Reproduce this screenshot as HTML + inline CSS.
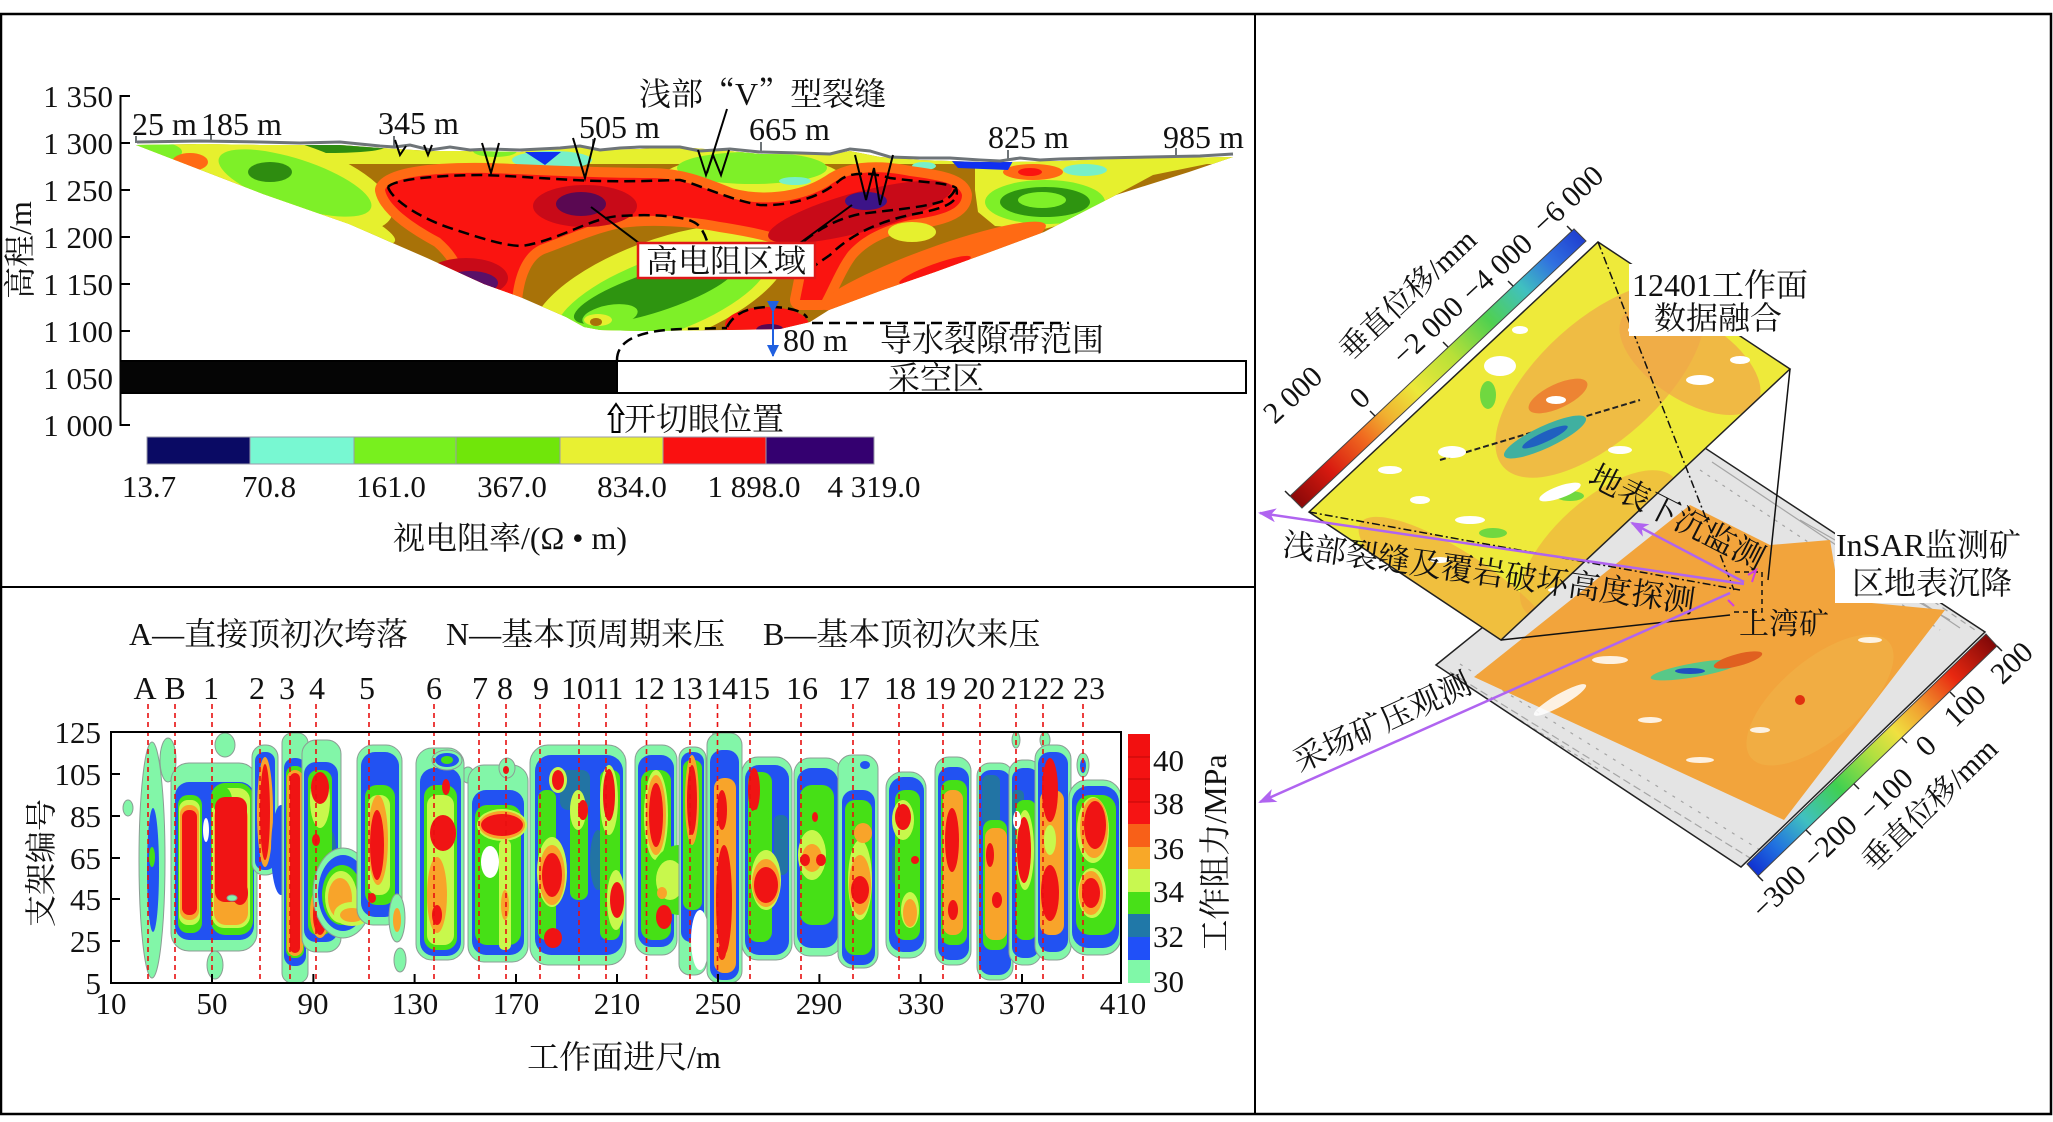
<!DOCTYPE html>
<html><head><meta charset="utf-8">
<style>
html,body{margin:0;padding:0;background:#fff;}
svg{display:block;}
text{font-family:"Liberation Serif","Noto Serif CJK SC",serif;fill:#111;}
.cj{font-family:"Noto Serif CJK SC",serif;}
.m{fill:#82f6a8;stroke:#8c9c94;stroke-width:1}
.b{fill:#2252f2}
.t{fill:#2274a4}
.g{fill:#46e016}
.y{fill:#c8f84c}
.o{fill:#f8a42a}
.q{fill:#f86418}
.r{fill:#f01414}
.w{fill:#fff}
</style></head><body>
<svg xmlns="http://www.w3.org/2000/svg" width="2053" height="1122" viewBox="0 0 2053 1122">
<defs>
 <clipPath id="pc"><path d="M136,145 L200,144 L260,145 L340,145 L380,148 L430,151 L470,151 L520,152 L570,146 L600,150 L640,149 L680,147 L730,151 L760,154 L830,155 L850,151 L880,157 L920,160 L980,162 L1010,162 L1060,161 L1120,159 L1233,157 L1189,172 L1116,195 L1044,232 L990,252 L935,272 L880,291 L829,310 L810,322 L780,329 L727,330 L640,331 L600,330 L584,327 L566,317 L520,297 L484,284 L427,258 L349,224 L263,194 Z"/></clipPath>
 <clipPath id="hc"><rect x="111" y="732" width="1010" height="251"/></clipPath>
 <clipPath id="upc"><polygon points="1309,512 1598,242 1790,369 1501,640"/></clipPath>
 <clipPath id="lpc"><polygon points="1436,665 1705,448 1985,632 1741,867"/></clipPath>
 <linearGradient id="gcu" gradientUnits="userSpaceOnUse" x1="1296" y1="502" x2="1580" y2="235">
  <stop offset="0" stop-color="#8a0808"/>
  <stop offset="0.12" stop-color="#d81a10"/>
  <stop offset="0.24" stop-color="#f06a20"/>
  <stop offset="0.32" stop-color="#f0b030"/>
  <stop offset="0.42" stop-color="#ece83a"/>
  <stop offset="0.55" stop-color="#b8e038"/>
  <stop offset="0.68" stop-color="#50d050"/>
  <stop offset="0.8" stop-color="#40c0c0"/>
  <stop offset="0.9" stop-color="#3070e0"/>
  <stop offset="1" stop-color="#2040d0"/>
 </linearGradient>
 <linearGradient id="gcl" gradientUnits="userSpaceOnUse" x1="1752" y1="870" x2="1992" y2="640">
  <stop offset="0" stop-color="#1030d0"/>
  <stop offset="0.1" stop-color="#2070e0"/>
  <stop offset="0.22" stop-color="#40c0c0"/>
  <stop offset="0.36" stop-color="#40d050"/>
  <stop offset="0.5" stop-color="#b0e040"/>
  <stop offset="0.6" stop-color="#f0e040"/>
  <stop offset="0.7" stop-color="#f0a030"/>
  <stop offset="0.84" stop-color="#e82810"/>
  <stop offset="1" stop-color="#800808"/>
 </linearGradient>
 <marker id="pa" markerUnits="userSpaceOnUse" markerWidth="18" markerHeight="14" refX="16" refY="7" orient="auto">
  <path d="M0,0 L18,7 L0,14 L5,7 Z" fill="#b064f0"/>
 </marker>
 <marker id="ba" markerUnits="userSpaceOnUse" markerWidth="12" markerHeight="12" refX="11" refY="6" orient="auto">
  <path d="M0,0 L12,6 L0,12 Z" fill="#2060e0"/>
 </marker>
</defs>

<rect x="0" y="0" width="2053" height="1122" fill="#fff"/>

<!-- ===================== TOP-LEFT PROFILE ===================== -->
<g clip-path="url(#pc)">
 <rect x="130" y="135" width="1110" height="200" fill="#a87208"/>
 <rect x="130" y="138" width="1110" height="26" fill="#e6f02e"/>
 <ellipse cx="330" cy="147" rx="55" ry="6" fill="#2e8c10"/>
 <ellipse cx="150" cy="152" rx="32" ry="11" fill="#7ef028"/>
 <ellipse cx="292" cy="183" rx="105" ry="40" transform="rotate(18 292 183)" fill="#e6f02e"/>
 <ellipse cx="330" cy="215" rx="70" ry="14" transform="rotate(22 330 215)" fill="#e6f02e"/>
 <ellipse cx="295" cy="183" rx="80" ry="24" transform="rotate(18 295 183)" fill="#7ef028"/>
 <ellipse cx="270" cy="172" rx="22" ry="10" fill="#2e8c10"/>
 <ellipse cx="190" cy="162" rx="18" ry="9" fill="#ff6a14"/>
 <ellipse cx="752" cy="178" rx="90" ry="22" fill="#e6f02e"/>
 <ellipse cx="752" cy="168" rx="75" ry="16" fill="#7ef028"/>
 <ellipse cx="795" cy="181" rx="16" ry="4" fill="#78f0c8"/>
 <ellipse cx="924" cy="166" rx="12" ry="4" fill="#78f0c8"/>
 <ellipse cx="552" cy="160" rx="40" ry="9" fill="#78f0c8"/>
 <polygon points="525,152 561,152 545,165" fill="#1030f0"/>
 <ellipse cx="495" cy="151" rx="22" ry="6" fill="#7ef028"/>
 <!-- lower middle yellow/green -->
 <ellipse cx="660" cy="292" rx="135" ry="52" transform="rotate(-20 660 292)" fill="#e6f02e"/>
 <ellipse cx="662" cy="296" rx="112" ry="38" transform="rotate(-20 662 296)" fill="#7ef028"/>
 <ellipse cx="655" cy="292" rx="85" ry="20" transform="rotate(-18 655 292)" fill="#2e9410"/>
 <ellipse cx="610" cy="316" rx="28" ry="11" transform="rotate(-10 610 316)" fill="#7ef028"/>
 <ellipse cx="598" cy="320" rx="14" ry="6" fill="#e6f02e"/>
 <ellipse cx="596" cy="322" rx="6" ry="4" fill="#a87208"/>
 <!-- red region -->
 <path d="M385,190 C390,176 440,172 490,173 C540,175 600,178 650,178 C680,178 700,186 730,198 C760,206 800,204 830,185 C850,170 880,170 910,176 C940,180 960,184 962,195 C962,210 940,216 910,220 C880,226 860,238 848,252 C838,265 830,285 822,300 L800,300 C805,275 810,255 805,245 C790,236 760,228 720,222 C690,216 650,214 620,218 C590,224 565,236 540,245 C525,252 515,270 512,300 L470,300 C468,275 460,255 440,238 C410,222 388,205 385,190 Z" fill="#ff6a14" stroke="#ff6a14" stroke-width="20" stroke-linejoin="round"/>
 <path d="M385,190 C390,176 440,172 490,173 C540,175 600,178 650,178 C680,178 700,186 730,198 C760,206 800,204 830,185 C850,170 880,170 910,176 C940,180 960,184 962,195 C962,210 940,216 910,220 C880,226 860,238 848,252 C838,265 830,285 822,300 L800,300 C805,275 810,255 805,245 C790,236 760,228 720,222 C690,216 650,214 620,218 C590,224 565,236 540,245 C525,252 515,270 512,300 L470,300 C468,275 460,255 440,238 C410,222 388,205 385,190 Z" fill="#fa1410"/>
 <ellipse cx="585" cy="206" rx="52" ry="21" fill="#c80a18"/>
 <ellipse cx="581" cy="204" rx="25" ry="12" fill="#5a0852"/>
 <ellipse cx="860" cy="212" rx="95" ry="20" transform="rotate(-15 860 212)" fill="#c80a18"/>
 <ellipse cx="866" cy="201" rx="21" ry="9" fill="#3c1488"/>
 <ellipse cx="466" cy="278" rx="42" ry="20" fill="#c80a18"/>
 <ellipse cx="470" cy="283" rx="28" ry="12" fill="#5a1068"/>
 <ellipse cx="912" cy="232" rx="24" ry="10" fill="#e6f02e"/>
 <!-- right side -->
 <polygon points="975,162 1233,156 1207,164 1153,175 1116,195 1080,220 1044,229 995,226 978,212 975,190" fill="#e6f02e"/>
 <ellipse cx="1045" cy="202" rx="60" ry="22" fill="#7ef028"/>
 <ellipse cx="1045" cy="202" rx="45" ry="15" fill="#2e9410"/>
 <ellipse cx="1042" cy="200" rx="24" ry="8" fill="#7ef028"/>
 <ellipse cx="1033" cy="172" rx="30" ry="8" fill="#ff6a14"/>
 <ellipse cx="1030" cy="172" rx="12" ry="4" fill="#fa1410"/>
 <polygon points="951,160 1013,161 1008,170 958,168" fill="#1030f0"/>
 <ellipse cx="1085" cy="170" rx="22" ry="6" fill="#78f0c8"/>
 <ellipse cx="933" cy="266" rx="120" ry="18" transform="rotate(-20 933 266)" fill="#ff6a14"/>
 <ellipse cx="935" cy="270" rx="38" ry="6" transform="rotate(-20 935 270)" fill="#fa1410"/>
 <!-- bottom red blob -->
 <ellipse cx="767" cy="325" rx="42" ry="18" fill="#fa1410"/>
 <ellipse cx="770" cy="330" rx="14" ry="6" fill="#5a0852"/>
</g>
<!-- surface line -->
<polyline fill="none" stroke="#6e7478" stroke-width="3" points="137,142 200,141 260,142 300,143 340,142 360,144 380,146 395,147 410,145 430,150 450,147 470,150 490,149 520,150 560,148 580,146 600,150 620,148 640,147 680,147 700,151 730,149 760,152 800,153 830,154 850,149 870,151 890,157 920,158 950,158 980,160 1000,161 1020,158 1040,160 1060,159 1100,158 1150,157 1200,156 1233,154"/>
<g stroke="#6e7478" stroke-width="2">
 <line x1="136" y1="136" x2="136" y2="143"/><line x1="211" y1="134" x2="211" y2="142"/>
 <line x1="394" y1="136" x2="394" y2="146"/><line x1="593" y1="139" x2="593" y2="148"/>
 <line x1="761" y1="142" x2="761" y2="152"/><line x1="1008" y1="150" x2="1008" y2="160"/>
 <line x1="1176" y1="148" x2="1176" y2="157"/>
</g>
<!-- V cracks -->
<g fill="none" stroke="#000" stroke-width="2">
 <polyline points="395,140 400,155 406,146"/>
 <polyline points="424,145 428,155 432,145"/>
 <polyline points="482,143 491,173 499,143"/>
 <polyline points="573,138 585,178 595,138"/>
 <polyline points="698,150 706,175 713,155 721,175 729,150"/>
 <polyline points="855,155 866,200 874,168 880,205 893,155"/>
 <line x1="727" y1="109" x2="707" y2="173"/>
 <line x1="591" y1="207" x2="639" y2="243"/>
 <line x1="852" y1="205" x2="800" y2="243"/>
</g>
<!-- dashed boundaries -->
<g fill="none" stroke="#000" stroke-width="2.5" stroke-dasharray="11 6">
 <path d="M388,187 C395,178 450,175 480,175 C520,176 560,180 600,181 C640,182 665,180 680,180 C700,185 730,200 760,205 C790,206 820,198 840,180 C850,172 870,172 890,178 C920,182 950,183 956,188 C960,200 950,207 920,213 C880,220 850,235 830,255 C820,262 815,265 812,268"/>
 <path d="M388,187 C392,200 420,218 450,228 C480,238 505,246 522,246 C560,240 590,218 619,216 C650,214 690,215 699,226 C704,232 706,238 707,241"/>
 <path d="M804,241 C820,228 840,218 860,214 C890,210 920,208 940,202 C952,198 956,190 956,184"/>
 <path d="M617,360 C617,340 640,330 683,329 L727,328"/>
 <path d="M727,327 C735,312 750,307 770,307 C790,307 805,312 807,318"/>
 <line x1="812" y1="323" x2="1069" y2="323"/>
</g>
<!-- high resistivity box -->
<rect x="638" y="243" width="177" height="35" fill="#fff" stroke="#e01818" stroke-width="2.5"/>
<text x="726" y="272" font-size="32" text-anchor="middle">高电阻区域</text>
<text x="639" y="105" font-size="32">浅部<tspan class="cj">“</tspan>V<tspan class="cj">”</tspan>型裂缝</text>
<!-- axis -->
<g stroke="#000" stroke-width="2">
 <line x1="120.5" y1="95" x2="120.5" y2="426"/>
 <line x1="120" y1="96" x2="130" y2="96"/><line x1="120" y1="143" x2="130" y2="143"/>
 <line x1="120" y1="190" x2="130" y2="190"/><line x1="120" y1="237" x2="130" y2="237"/>
 <line x1="120" y1="284" x2="130" y2="284"/><line x1="120" y1="331" x2="130" y2="331"/>
 <line x1="120" y1="378" x2="130" y2="378"/><line x1="120" y1="425" x2="130" y2="425"/>
</g>
<g font-size="31" text-anchor="end">
 <text x="113" y="107">1 350</text><text x="113" y="154">1 300</text>
 <text x="113" y="201">1 250</text><text x="113" y="248">1 200</text>
 <text x="113" y="295">1 150</text><text x="113" y="342">1 100</text>
 <text x="113" y="389">1 050</text><text x="113" y="436">1 000</text>
</g>
<text transform="translate(31,250) rotate(-90)" font-size="32" text-anchor="middle">高程/m</text>
<g font-size="32">
 <text x="132" y="135">25 m</text><text x="201" y="135">185 m</text>
 <text x="378" y="134">345 m</text><text x="579" y="138">505 m</text>
 <text x="749" y="140">665 m</text><text x="988" y="148">825 m</text>
 <text x="1163" y="148">985 m</text>
</g>
<!-- goaf -->
<rect x="120" y="361" width="497" height="32" fill="#050505"/>
<rect x="617" y="361" width="629" height="32" fill="#fff" stroke="#000" stroke-width="2"/>
<line x1="120" y1="361" x2="1246" y2="361" stroke="#000" stroke-width="2"/>
<line x1="120" y1="393" x2="1246" y2="393" stroke="#000" stroke-width="2"/>
<text x="936" y="389" font-size="32" text-anchor="middle">采空区</text>
<line x1="773" y1="312" x2="773" y2="356" stroke="#2060e0" stroke-width="2" marker-start="url(#ba)" marker-end="url(#ba)"/>
<text x="783" y="351" font-size="32">80 m</text>
<text x="880" y="351" font-size="32">导水裂隙带范围</text>
<path d="M616,404 L623,414 L619.5,414 L619.5,432 L612.5,432 L612.5,414 L609,414 Z" fill="#fff" stroke="#000" stroke-width="2"/>
<text x="624" y="430" font-size="32">开切眼位置</text>
<!-- colorbar -->
<g stroke="#9a9aaa" stroke-width="1">
 <rect x="147" y="437" width="103" height="27" fill="#0a0a64"/>
 <rect x="250" y="437" width="104" height="27" fill="#78f8d2"/>
 <rect x="354" y="437" width="102" height="27" fill="#78f01e"/>
 <rect x="456" y="437" width="104" height="27" fill="#70e60a"/>
 <rect x="560" y="437" width="103" height="27" fill="#e8f032"/>
 <rect x="663" y="437" width="103" height="27" fill="#fa1010"/>
 <rect x="766" y="437" width="108" height="27" fill="#340070"/>
</g>
<g font-size="31" text-anchor="middle">
 <text x="149" y="497">13.7</text><text x="269" y="497">70.8</text>
 <text x="391" y="497">161.0</text><text x="512" y="497">367.0</text>
 <text x="632" y="497">834.0</text><text x="754" y="497">1 898.0</text>
 <text x="874" y="497">4 319.0</text>
</g>
<text x="510" y="549" font-size="32" text-anchor="middle">视电阻率/(Ω • m)</text>

<!-- ===================== BOTTOM-LEFT HEATMAP ===================== -->
<g font-size="32">
 <text x="129" y="645">A—直接顶初次垮落</text>
 <text x="446" y="645">N—基本顶周期来压</text>
 <text x="763" y="645">B—基本顶初次来压</text>
</g>
<g font-size="32" text-anchor="middle">
 <text x="145" y="699">A</text><text x="175" y="699">B</text><text x="211" y="699">1</text>
 <text x="257" y="699">2</text><text x="287" y="699">3</text><text x="317" y="699">4</text>
 <text x="367" y="699">5</text><text x="434" y="699">6</text><text x="480" y="699">7</text>
 <text x="505" y="699">8</text><text x="541" y="699">9</text><text x="577" y="699">10</text>
 <text x="608" y="699">11</text><text x="649" y="699">12</text><text x="687" y="699">13</text>
 <text x="722" y="699">14</text><text x="754" y="699">15</text><text x="802" y="699">16</text>
 <text x="854" y="699">17</text><text x="900" y="699">18</text><text x="940" y="699">19</text>
 <text x="979" y="699">20</text><text x="1017" y="699">21</text><text x="1049" y="699">22</text>
 <text x="1089" y="699">23</text>
</g>
<g clip-path="url(#hc)">
 <ellipse class="m" cx="128" cy="808" rx="5" ry="8"/>
 <ellipse class="m" cx="168" cy="760" rx="8" ry="22"/>
 <ellipse class="m" cx="225" cy="745" rx="10" ry="12"/>
 <ellipse class="m" cx="215" cy="965" rx="8" ry="14"/>
 <ellipse class="m" cx="400" cy="960" rx="6" ry="12"/>
 <ellipse class="m" cx="468" cy="775" rx="6" ry="8"/>
 <ellipse class="m" cx="1045" cy="740" rx="5" ry="8"/>
 <ellipse class="m" cx="1016" cy="740" rx="4" ry="8"/>
 <ellipse class="m" cx="720" cy="740" rx="8" ry="14"/>
 <!-- A -->
 <ellipse class="m" cx="152" cy="860" rx="13" ry="118"/>
 <ellipse class="b" cx="153" cy="870" rx="6" ry="62"/>
 <ellipse class="g" cx="152" cy="857" rx="3" ry="10"/>
 <!-- B & 1 -->
 <rect class="m" x="171" y="763" width="86" height="188" rx="18"/>
 <rect class="b" x="175" y="782" width="79" height="158" rx="14"/>
 <rect class="g" x="178" y="795" width="24" height="138" rx="10"/>
 <rect class="y" x="179" y="800" width="21" height="125" rx="9"/>
 <rect class="o" x="180" y="805" width="19" height="115" rx="9"/>
 <rect class="r" x="182" y="810" width="15" height="105" rx="7"/>
 <ellipse class="w" cx="206" cy="830" rx="3" ry="12"/>
 <rect class="g" x="211" y="783" width="42" height="152" rx="14"/>
 <rect class="y" x="212" y="788" width="38" height="140" rx="12"/>
 <ellipse class="g" cx="222" cy="800" rx="10" ry="14"/>
 <rect class="o" x="214" y="805" width="34" height="120" rx="12"/>
 <rect class="r" x="215" y="797" width="32" height="105" rx="10"/>
 <ellipse class="r" cx="240" cy="893" rx="8" ry="12"/>
 <ellipse class="m" cx="232" cy="898" rx="5" ry="3"/>
 <!-- 2 -->
 <rect class="m" x="252" y="745" width="26" height="130" rx="12"/>
 <rect class="b" x="255" y="752" width="20" height="118" rx="9"/>
 <ellipse class="o" cx="265" cy="812" rx="8" ry="55"/>
 <ellipse class="r" cx="265" cy="812" rx="5" ry="48"/>
 <ellipse class="b" cx="281" cy="850" rx="10" ry="45"/>
 <!-- 3 -->
 <rect class="m" x="282" y="733" width="26" height="250" rx="10"/>
 <rect class="b" x="284" y="758" width="22" height="208" rx="10"/>
 <rect class="g" x="286" y="766" width="18" height="192" rx="8"/>
 <rect class="o" x="287" y="770" width="16" height="186" rx="8"/>
 <rect class="r" x="290" y="773" width="10" height="180" rx="5"/>
 <!-- 4 -->
 <rect class="m" x="302" y="740" width="39" height="212" rx="14"/>
 <rect class="b" x="304" y="762" width="34" height="180" rx="12"/>
 <ellipse class="t" cx="330" cy="850" rx="6" ry="20"/>
 <rect class="g" x="308" y="770" width="24" height="165" rx="10"/>
 <ellipse class="y" cx="320" cy="800" rx="10" ry="28"/>
 <ellipse class="r" cx="320" cy="788" rx="9" ry="16"/>
 <ellipse class="o" cx="320" cy="912" rx="10" ry="26"/>
 <ellipse class="r" cx="320" cy="915" rx="7" ry="20"/>
 <ellipse class="r" cx="316" cy="840" rx="4" ry="6"/>
 <!-- 4-5 -->
 <ellipse class="m" cx="343" cy="893" rx="30" ry="45"/>
 <ellipse class="b" cx="343" cy="893" rx="25" ry="38"/>
 <ellipse class="g" cx="342" cy="895" rx="20" ry="30"/>
 <ellipse class="y" cx="341" cy="897" rx="16" ry="26"/>
 <ellipse class="o" cx="340" cy="898" rx="12" ry="20"/>
 <ellipse class="y" cx="352" cy="914" rx="18" ry="12"/>
 <ellipse class="o" cx="352" cy="915" rx="12" ry="7"/>
 <!-- 5 -->
 <rect class="m" x="357" y="745" width="45" height="180" rx="16"/>
 <rect class="b" x="361" y="752" width="38" height="165" rx="14"/>
 <rect class="g" x="365" y="785" width="30" height="120" rx="12"/>
 <rect class="y" x="368" y="795" width="22" height="100" rx="10"/>
 <ellipse class="o" cx="378" cy="840" rx="10" ry="45"/>
 <ellipse class="r" cx="377" cy="845" rx="7" ry="35"/>
 <ellipse class="r" cx="372" cy="898" rx="4" ry="5"/>
 <ellipse class="m" cx="397" cy="918" rx="8" ry="24"/>
 <ellipse class="o" cx="397" cy="920" rx="4" ry="12"/>
 <!-- 6 -->
 <rect class="m" x="416" y="748" width="48" height="212" rx="16"/>
 <rect class="b" x="420" y="768" width="41" height="188" rx="14"/>
 <rect class="g" x="424" y="785" width="33" height="165" rx="12"/>
 <rect class="y" x="427" y="795" width="27" height="150" rx="10"/>
 <ellipse class="m" cx="447" cy="760" rx="15" ry="10"/>
 <ellipse class="b" cx="447" cy="760" rx="12" ry="7"/>
 <ellipse class="g" cx="447" cy="760" rx="6" ry="4"/>
 <ellipse class="r" cx="443" cy="833" rx="13" ry="18"/>
 <ellipse class="o" cx="437" cy="895" rx="10" ry="38"/>
 <ellipse class="r" cx="437" cy="915" rx="5" ry="10"/>
 <ellipse class="r" cx="446" cy="787" rx="4" ry="8"/>
 <!-- 7/8 -->
 <rect class="m" x="468" y="765" width="60" height="197" rx="16"/>
 <rect class="b" x="472" y="790" width="52" height="165" rx="14"/>
 <rect class="g" x="475" y="805" width="46" height="140" rx="12"/>
 <ellipse class="w" cx="490" cy="862" rx="9" ry="16"/>
 <ellipse class="y" cx="502" cy="825" rx="25" ry="16"/>
 <ellipse class="o" cx="502" cy="825" rx="23" ry="14"/>
 <ellipse class="r" cx="502" cy="825" rx="21" ry="11"/>
 <rect class="y" x="499" y="840" width="12" height="110" rx="5"/>
 <ellipse class="o" cx="505" cy="905" rx="4" ry="15"/>
 <ellipse class="m" cx="507" cy="768" rx="8" ry="10"/>
 <ellipse class="r" cx="506" cy="770" rx="3" ry="4"/>
 <!-- 9-11 -->
 <rect class="m" x="530" y="745" width="96" height="220" rx="18"/>
 <rect class="b" x="535" y="755" width="88" height="200" rx="16"/>
 <rect class="t" x="560" y="770" width="30" height="40" rx="8"/>
 <ellipse class="t" cx="598" cy="860" rx="8" ry="30"/>
 <rect class="g" x="538" y="790" width="18" height="150" rx="8"/>
 <rect class="g" x="570" y="800" width="18" height="100" rx="8"/>
 <rect class="g" x="600" y="770" width="20" height="170" rx="8"/>
 <ellipse class="y" cx="552" cy="872" rx="15" ry="35"/>
 <ellipse class="y" cx="609" cy="800" rx="9" ry="35"/>
 <ellipse class="y" cx="616" cy="900" rx="9" ry="30"/>
 <ellipse class="y" cx="578" cy="810" rx="8" ry="20"/>
 <ellipse class="o" cx="552" cy="875" rx="13" ry="30"/>
 <ellipse class="r" cx="552" cy="875" rx="10" ry="22"/>
 <ellipse class="y" cx="558" cy="780" rx="9" ry="13"/>
 <ellipse class="r" cx="558" cy="780" rx="6" ry="10"/>
 <ellipse class="r" cx="609" cy="795" rx="6" ry="26"/>
 <ellipse class="r" cx="583" cy="810" rx="5" ry="10"/>
 <ellipse class="r" cx="617" cy="900" rx="7" ry="18"/>
 <ellipse class="r" cx="553" cy="938" rx="9" ry="10"/>
 <!-- 12 -->
 <rect class="m" x="635" y="745" width="42" height="210" rx="15"/>
 <rect class="b" x="638" y="755" width="36" height="192" rx="13"/>
 <rect class="g" x="641" y="770" width="30" height="170" rx="11"/>
 <ellipse class="y" cx="656" cy="815" rx="12" ry="45"/>
 <ellipse class="o" cx="656" cy="815" rx="10" ry="40"/>
 <ellipse class="r" cx="656" cy="815" rx="7" ry="32"/>
 <ellipse class="g" cx="680" cy="880" rx="30" ry="35"/>
 <ellipse class="y" cx="670" cy="880" rx="14" ry="20"/>
 <ellipse class="o" cx="662" cy="893" rx="5" ry="6"/>
 <ellipse class="r" cx="664" cy="917" rx="8" ry="12"/>
 <!-- 13 -->
 <rect class="m" x="679" y="747" width="27" height="228" rx="11"/>
 <rect class="b" x="681" y="752" width="23" height="190" rx="10"/>
 <rect class="g" x="683" y="760" width="19" height="150" rx="8"/>
 <ellipse class="o" cx="692" cy="800" rx="7" ry="45"/>
 <ellipse class="r" cx="692" cy="800" rx="5" ry="35"/>
 <ellipse class="w" cx="700" cy="940" rx="9" ry="30"/>
 <!-- 14 -->
 <rect class="m" x="707" y="733" width="35" height="250" rx="12"/>
 <rect class="b" x="710" y="750" width="29" height="230" rx="12"/>
 <rect class="o" x="714" y="778" width="22" height="195" rx="10"/>
 <ellipse class="r" cx="724" cy="900" rx="8" ry="55"/>
 <ellipse class="r" cx="722" cy="810" rx="5" ry="20"/>
 <ellipse class="r" cx="722" cy="952" rx="4" ry="8"/>
 <!-- 15 -->
 <rect class="m" x="742" y="757" width="50" height="203" rx="16"/>
 <rect class="b" x="745" y="765" width="44" height="190" rx="14"/>
 <rect class="t" x="774" y="815" width="14" height="60" rx="6"/>
 <rect class="g" x="748" y="772" width="24" height="170" rx="10"/>
 <ellipse class="y" cx="766" cy="880" rx="15" ry="30"/>
 <ellipse class="o" cx="766" cy="883" rx="14" ry="24"/>
 <ellipse class="r" cx="766" cy="885" rx="12" ry="18"/>
 <ellipse class="r" cx="754" cy="790" rx="6" ry="22"/>
 <ellipse class="g" cx="760" cy="815" rx="10" ry="6"/>
 <!-- 16 -->
 <rect class="m" x="794" y="758" width="48" height="198" rx="16"/>
 <rect class="b" x="797" y="768" width="41" height="180" rx="14"/>
 <rect class="g" x="800" y="785" width="34" height="140" rx="12"/>
 <ellipse class="y" cx="812" cy="855" rx="14" ry="25"/>
 <ellipse class="o" cx="812" cy="858" rx="10" ry="14"/>
 <ellipse class="r" cx="805" cy="860" rx="5" ry="6"/>
 <ellipse class="r" cx="821" cy="860" rx="5" ry="6"/>
 <ellipse class="r" cx="815" cy="817" rx="3" ry="5"/>
 <!-- 17 -->
 <rect class="m" x="838" y="755" width="40" height="213" rx="14"/>
 <rect class="b" x="842" y="790" width="33" height="175" rx="12"/>
 <rect class="g" x="845" y="800" width="27" height="155" rx="10"/>
 <ellipse class="y" cx="860" cy="880" rx="12" ry="40"/>
 <ellipse class="o" cx="860" cy="885" rx="11" ry="30"/>
 <ellipse class="r" cx="860" cy="890" rx="9" ry="14"/>
 <ellipse class="o" cx="863" cy="833" rx="9" ry="10"/>
 <ellipse class="b" cx="865" cy="765" rx="5" ry="4"/>
 <!-- 18 -->
 <rect class="m" x="886" y="772" width="40" height="186" rx="16"/>
 <rect class="b" x="889" y="777" width="35" height="175" rx="14"/>
 <rect class="t" x="892" y="845" width="12" height="40" rx="5"/>
 <rect class="g" x="895" y="790" width="25" height="150" rx="10"/>
 <ellipse class="y" cx="903" cy="820" rx="11" ry="20"/>
 <ellipse class="y" cx="910" cy="910" rx="9" ry="18"/>
 <ellipse class="o" cx="910" cy="913" rx="7" ry="14"/>
 <ellipse class="r" cx="903" cy="817" rx="8" ry="13"/>
 <ellipse class="r" cx="915" cy="860" rx="4" ry="4"/>
 <!-- 19 -->
 <rect class="m" x="935" y="757" width="36" height="208" rx="14"/>
 <rect class="b" x="938" y="767" width="31" height="193" rx="12"/>
 <rect class="g" x="941" y="780" width="26" height="165" rx="10"/>
 <rect class="o" x="943" y="790" width="20" height="145" rx="9"/>
 <ellipse class="r" cx="952" cy="840" rx="7" ry="32"/>
 <ellipse class="r" cx="953" cy="910" rx="5" ry="10"/>
 <!-- 20 -->
 <rect class="m" x="977" y="763" width="36" height="217" rx="13"/>
 <rect class="b" x="979" y="770" width="32" height="205" rx="12"/>
 <rect class="t" x="982" y="775" width="18" height="50" rx="7"/>
 <rect class="g" x="983" y="820" width="24" height="130" rx="9"/>
 <rect class="o" x="985" y="828" width="22" height="112" rx="9"/>
 <ellipse class="r" cx="990" cy="855" rx="4" ry="12"/>
 <ellipse class="r" cx="997" cy="900" rx="5" ry="8"/>
 <!-- 21 -->
 <rect class="m" x="1009" y="760" width="32" height="205" rx="13"/>
 <rect class="b" x="1012" y="768" width="27" height="190" rx="11"/>
 <rect class="t" x="1012" y="790" width="12" height="60" rx="5"/>
 <rect class="g" x="1016" y="800" width="20" height="140" rx="8"/>
 <ellipse class="y" cx="1025" cy="850" rx="9" ry="40"/>
 <ellipse class="r" cx="1024" cy="850" rx="7" ry="33"/>
 <ellipse class="w" cx="1017" cy="820" rx="4" ry="9"/>
 <!-- 22 -->
 <rect class="m" x="1035" y="745" width="36" height="215" rx="14"/>
 <rect class="b" x="1038" y="752" width="30" height="200" rx="12"/>
 <rect class="o" x="1040" y="790" width="24" height="145" rx="10"/>
 <ellipse class="r" cx="1050" cy="790" rx="8" ry="32"/>
 <ellipse class="r" cx="1050" cy="893" rx="9" ry="28"/>
 <ellipse class="y" cx="1050" cy="840" rx="6" ry="15"/>
 <!-- 23 -->
 <ellipse class="m" cx="1083" cy="765" rx="6" ry="12"/>
 <ellipse class="b" cx="1083" cy="766" rx="3" ry="7"/>
 <rect class="m" x="1069" y="780" width="52" height="175" rx="18"/>
 <rect class="b" x="1072" y="786" width="47" height="162" rx="16"/>
 <rect class="g" x="1076" y="795" width="40" height="140" rx="14"/>
 <ellipse class="y" cx="1093" cy="830" rx="16" ry="33"/>
 <ellipse class="y" cx="1092" cy="893" rx="14" ry="25"/>
 <ellipse class="o" cx="1094" cy="828" rx="14" ry="30"/>
 <ellipse class="o" cx="1091" cy="893" rx="12" ry="22"/>
 <ellipse class="r" cx="1095" cy="825" rx="11" ry="24"/>
 <ellipse class="r" cx="1091" cy="893" rx="9" ry="15"/>
</g>
<!-- red dashed lines -->
<g stroke="#e81010" stroke-width="1.6" stroke-dasharray="5 4">
 <line x1="148" y1="704" x2="148" y2="983"/><line x1="175" y1="704" x2="175" y2="983"/>
 <line x1="212" y1="704" x2="212" y2="983"/><line x1="260" y1="704" x2="260" y2="983"/>
 <line x1="290" y1="704" x2="290" y2="983"/><line x1="316" y1="704" x2="316" y2="983"/>
 <line x1="369" y1="704" x2="369" y2="983"/><line x1="434" y1="704" x2="434" y2="983"/>
 <line x1="479" y1="704" x2="479" y2="983"/><line x1="506" y1="704" x2="506" y2="983"/>
 <line x1="540" y1="704" x2="540" y2="983"/><line x1="579" y1="704" x2="579" y2="983"/>
 <line x1="606" y1="704" x2="606" y2="983"/><line x1="646.5" y1="704" x2="646.5" y2="983"/>
 <line x1="690" y1="704" x2="690" y2="983"/><line x1="717.5" y1="704" x2="717.5" y2="983"/>
 <line x1="750" y1="704" x2="750" y2="983"/><line x1="801" y1="704" x2="801" y2="983"/>
 <line x1="853" y1="704" x2="853" y2="983"/><line x1="899" y1="704" x2="899" y2="983"/>
 <line x1="943" y1="704" x2="943" y2="983"/><line x1="980" y1="704" x2="980" y2="983"/>
 <line x1="1016" y1="704" x2="1016" y2="983"/><line x1="1043" y1="704" x2="1043" y2="983"/>
 <line x1="1083" y1="704" x2="1083" y2="983"/>
</g>
<rect x="111" y="732" width="1010" height="251" fill="none" stroke="#000" stroke-width="2"/>
<g stroke="#000" stroke-width="2">
 <line x1="111" y1="774" x2="120" y2="774"/><line x1="111" y1="816" x2="120" y2="816"/>
 <line x1="111" y1="858" x2="120" y2="858"/><line x1="111" y1="899" x2="120" y2="899"/>
 <line x1="111" y1="941" x2="120" y2="941"/>
 <line x1="212" y1="983" x2="212" y2="974"/><line x1="313.4" y1="983" x2="313.4" y2="974"/>
 <line x1="414.6" y1="983" x2="414.6" y2="974"/><line x1="516" y1="983" x2="516" y2="974"/>
 <line x1="617" y1="983" x2="617" y2="974"/><line x1="718" y1="983" x2="718" y2="974"/>
 <line x1="819.4" y1="983" x2="819.4" y2="974"/><line x1="920.6" y1="983" x2="920.6" y2="974"/>
 <line x1="1022" y1="983" x2="1022" y2="974"/>
</g>
<g font-size="31" text-anchor="end">
 <text x="101" y="743">125</text><text x="101" y="785">105</text>
 <text x="101" y="827">85</text><text x="101" y="869">65</text>
 <text x="101" y="910">45</text><text x="101" y="952">25</text>
 <text x="101" y="994">5</text>
</g>
<g font-size="31" text-anchor="middle">
 <text x="111" y="1014">10</text><text x="212" y="1014">50</text>
 <text x="313" y="1014">90</text><text x="415" y="1014">130</text>
 <text x="516" y="1014">170</text><text x="617" y="1014">210</text>
 <text x="718" y="1014">250</text><text x="819" y="1014">290</text>
 <text x="921" y="1014">330</text><text x="1022" y="1014">370</text>
 <text x="1123" y="1014">410</text>
</g>
<text x="624" y="1068" font-size="32" text-anchor="middle">工作面进尺/m</text>
<text transform="translate(52,863) rotate(-90)" font-size="32" text-anchor="middle">支架编号</text>
<!-- heatmap colorbar -->
<g>
 <rect x="1128" y="734" width="22" height="23" fill="#f21010"/>
 <rect x="1128" y="757" width="22" height="22" fill="#f41212"/>
 <rect x="1128" y="779" width="22" height="23" fill="#f21010"/>
 <rect x="1128" y="802" width="22" height="22" fill="#f61414"/>
 <rect x="1128" y="824" width="22" height="23" fill="#f86018"/>
 <rect x="1128" y="847" width="22" height="22" fill="#f8a828"/>
 <rect x="1128" y="869" width="22" height="23" fill="#c8f850"/>
 <rect x="1128" y="892" width="22" height="22" fill="#48e018"/>
 <rect x="1128" y="914" width="22" height="23" fill="#2078a8"/>
 <rect x="1128" y="937" width="22" height="23" fill="#2050f8"/>
 <rect x="1128" y="960" width="22" height="23" fill="#80f8a8"/>
 <g stroke="#c00808" stroke-width="1"><line x1="1128" y1="757" x2="1150" y2="757"/><line x1="1128" y1="779" x2="1150" y2="779"/><line x1="1128" y1="802" x2="1150" y2="802"/></g>
</g>
<g font-size="31">
 <text x="1153" y="771">40</text><text x="1153" y="814">38</text>
 <text x="1153" y="859">36</text><text x="1153" y="902">34</text>
 <text x="1153" y="947">32</text><text x="1153" y="992">30</text>
</g>
<text transform="translate(1226,853) rotate(-90)" font-size="32" text-anchor="middle">工作阻力/MPa</text>

<!-- ===================== RIGHT PANEL ===================== -->
<polygon points="1436,665 1705,448 1985,632 1741,867" fill="#e4e4e4"/>
<g clip-path="url(#lpc)" stroke="#8a8a8a" stroke-width="1.2" fill="none" opacity="0.7">
 <path d="M1712,462 L1960,628"/><path d="M1725,458 L1975,630" stroke-dasharray="6 5"/>
 <path d="M1700,470 L1940,630" stroke-dasharray="3 6"/>
 <path d="M1450,672 L1750,858" stroke-dasharray="8 4"/>
 <path d="M1460,664 L1760,850" stroke-dasharray="3 7"/>
 <path d="M1800,520 L1870,560" /><path d="M1880,580 L1950,620"/>
 <path d="M1520,720 L1600,770" stroke-dasharray="4 4"/>
</g>
<polygon points="1474,677 1690,505 1770,545 1830,540 1840,600 1945,610 1784,820" fill="#f2a43c"/>
<g clip-path="url(#lpc)">
 <ellipse cx="1820" cy="700" rx="90" ry="40" transform="rotate(-40 1820 700)" fill="#f0b448" opacity="0.6"/>
 <ellipse cx="1695" cy="670" rx="45" ry="7" transform="rotate(-10 1695 670)" fill="#58c888"/>
 <ellipse cx="1690" cy="671" rx="15" ry="3" fill="#2050c0"/>
 <ellipse cx="1738" cy="660" rx="25" ry="6" transform="rotate(-15 1738 660)" fill="#e06020"/>
 <ellipse cx="1800" cy="700" rx="5" ry="5" fill="#e03010"/>
 <g fill="#fff" opacity="0.85">
  <ellipse cx="1560" cy="700" rx="30" ry="6" transform="rotate(-30 1560 700)"/>
  <ellipse cx="1610" cy="660" rx="18" ry="4"/>
  <ellipse cx="1650" cy="720" rx="12" ry="3"/>
  <ellipse cx="1700" cy="760" rx="14" ry="3"/>
  <ellipse cx="1760" cy="730" rx="10" ry="3"/>
  <ellipse cx="1870" cy="640" rx="12" ry="3"/>
 </g>
</g>
<polygon points="1436,665 1705,448 1985,632 1741,867" fill="none" stroke="#222" stroke-width="1.5"/>

<polygon points="1309,512 1598,242 1790,369 1501,640" fill="#eeea3a"/>
<g clip-path="url(#upc)">
 <ellipse cx="1600" cy="380" rx="130" ry="60" transform="rotate(-42 1600 380)" fill="#f0a848" opacity="0.7"/>
 <ellipse cx="1690" cy="360" rx="80" ry="40" transform="rotate(33 1690 360)" fill="#f0a848" opacity="0.75"/>
 <ellipse cx="1460" cy="590" rx="120" ry="35" transform="rotate(34 1460 590)" fill="#f0b040" opacity="0.75"/>
 <ellipse cx="1600" cy="545" rx="100" ry="45" transform="rotate(-42 1600 545)" fill="#f0a840" opacity="0.6"/>
 <ellipse cx="1558" cy="396" rx="32" ry="12" transform="rotate(-25 1558 396)" fill="#ec7a30" opacity="0.85"/>
 <line x1="1440" y1="460" x2="1640" y2="400" stroke="#222" stroke-width="2" stroke-dasharray="6 3"/>
 <ellipse cx="1545" cy="437" rx="45" ry="11" transform="rotate(-25 1545 437)" fill="#40b0a0"/>
 <ellipse cx="1545" cy="437" rx="25" ry="5" transform="rotate(-25 1545 437)" fill="#2060c0"/>
 <ellipse cx="1488" cy="395" rx="8" ry="14" fill="#70d840"/>
 <ellipse cx="1570" cy="496" rx="14" ry="5" fill="#70d840"/>
 <ellipse cx="1493" cy="533" rx="14" ry="5" fill="#70d840"/>
 <g fill="#fff">
  <ellipse cx="1500" cy="366" rx="16" ry="10"/>
  <ellipse cx="1556" cy="400" rx="10" ry="4"/>
  <ellipse cx="1452" cy="452" rx="14" ry="6"/>
  <ellipse cx="1560" cy="492" rx="22" ry="6" transform="rotate(-20 1560 492)"/>
  <ellipse cx="1420" cy="500" rx="10" ry="4"/>
  <ellipse cx="1470" cy="520" rx="15" ry="4"/>
  <ellipse cx="1390" cy="470" rx="12" ry="4"/>
  <ellipse cx="1640" cy="330" rx="12" ry="5"/>
  <ellipse cx="1700" cy="380" rx="14" ry="5"/>
  <ellipse cx="1740" cy="360" rx="10" ry="4"/>
  <ellipse cx="1620" cy="450" rx="12" ry="4"/>
  <ellipse cx="1520" cy="330" rx="8" ry="4"/>
  <ellipse cx="1440" cy="560" rx="10" ry="3"/>
  <ellipse cx="1560" cy="590" rx="12" ry="3"/>
 </g>
</g>
<polygon points="1309,512 1598,242 1790,369 1501,640" fill="none" stroke="#222" stroke-width="1.5"/>

<g stroke="#111" stroke-width="1.5" fill="none">
 <line x1="1598" y1="242" x2="1734" y2="590" stroke-dasharray="8 3 2 3"/>
 <line x1="1790" y1="369" x2="1768" y2="580"/>
 <line x1="1501" y1="640" x2="1730" y2="615"/>
 <line x1="1309" y1="512" x2="1740" y2="590" stroke-dasharray="8 3 2 3"/>
 <polyline points="1735,572 1762,572 1762,612 1732,612" stroke-dasharray="5 4"/>
</g>
<polygon points="1290,496 1302,508 1586,241 1574,229" fill="url(#gcu)" stroke="#444" stroke-width="1"/>
<g stroke="#222" stroke-width="1.5">
 <line x1="1290" y1="496" x2="1285" y2="491"/><line x1="1375" y1="416" x2="1370" y2="411"/>
 <line x1="1448" y1="347" x2="1443" y2="342"/><line x1="1513" y1="286" x2="1508" y2="281"/>
 <line x1="1572" y1="231" x2="1567" y2="226"/>
</g>
<polygon points="1747,864 1758,876 1997,646 1986,634" fill="url(#gcl)" stroke="#444" stroke-width="1"/>
<g stroke="#222" stroke-width="1.5">
 <line x1="1758" y1="876" x2="1763" y2="881"/><line x1="1806" y1="830" x2="1811" y2="835"/>
 <line x1="1854" y1="784" x2="1859" y2="789"/><line x1="1902" y1="738" x2="1907" y2="743"/>
 <line x1="1950" y1="692" x2="1955" y2="697"/><line x1="1997" y1="646" x2="2002" y2="651"/>
</g>
<g font-size="30" text-anchor="middle" dominant-baseline="central">
 <text transform="translate(1293,395) rotate(-43)">2 000</text>
 <text transform="translate(1408,295) rotate(-43)">垂直位移/mm</text>
 <text transform="translate(1360,398) rotate(-43)">0</text>
 <text transform="translate(1428,331) rotate(-43)">−2 000</text>
 <text transform="translate(1497,268) rotate(-43)">−4 000</text>
 <text transform="translate(1568,200) rotate(-43)">−6 000</text>
 <text transform="translate(1779,892) rotate(-44)">−300</text>
 <text transform="translate(1830,842) rotate(-44)">−200</text>
 <text transform="translate(1886,795) rotate(-44)">−100</text>
 <text transform="translate(1926,746) rotate(-44)">0</text>
 <text transform="translate(1965,706) rotate(-44)">100</text>
 <text transform="translate(2012,663) rotate(-44)">200</text>
 <text transform="translate(1930,805) rotate(-44)">垂直位移/mm</text>
</g>
<rect x="1629" y="264" width="182" height="72" fill="#fff"/>
<text x="1720" y="296" font-size="32" text-anchor="middle">12401工作面</text>
<text x="1718" y="329" font-size="32" text-anchor="middle">数据融合</text>
<rect x="1835" y="527" width="200" height="76" fill="#fff"/>
<text x="1836" y="556" font-size="32">InSAR监测矿</text>
<text x="1852" y="594" font-size="32">区地表沉降</text>
<text x="1739" y="634" font-size="30">上湾矿</text>
<g font-size="32" text-anchor="middle" dominant-baseline="central">
 <text transform="translate(1677,517) rotate(27)">地表下沉监测</text>
 <text transform="translate(1489,573) rotate(8)">浅部裂缝及覆岩破坏高度探测</text>
 <text transform="translate(1382,722) rotate(-25)">采场矿压观测</text>
</g>
<g stroke="#b064f0" stroke-width="2.5" fill="none">
 <line x1="1744" y1="584" x2="1260" y2="513" marker-end="url(#pa)"/>
 <line x1="1744" y1="582" x2="1632" y2="523" marker-end="url(#pa)"/>
 <line x1="1730" y1="593" x2="1260" y2="802" marker-end="url(#pa)"/>
</g>
<g stroke="#d040e0" stroke-width="2" fill="none">
 <path d="M1748,575 L1756,570 L1752,582"/><path d="M1728,600 L1734,606"/>
</g>

<rect x="1" y="14" width="2050" height="1100" fill="none" stroke="#000" stroke-width="2.5"/>
<line x1="1255" y1="14" x2="1255" y2="1114" stroke="#000" stroke-width="2"/>
<line x1="1" y1="587" x2="1255" y2="587" stroke="#000" stroke-width="2"/>
</svg>
</body></html>
